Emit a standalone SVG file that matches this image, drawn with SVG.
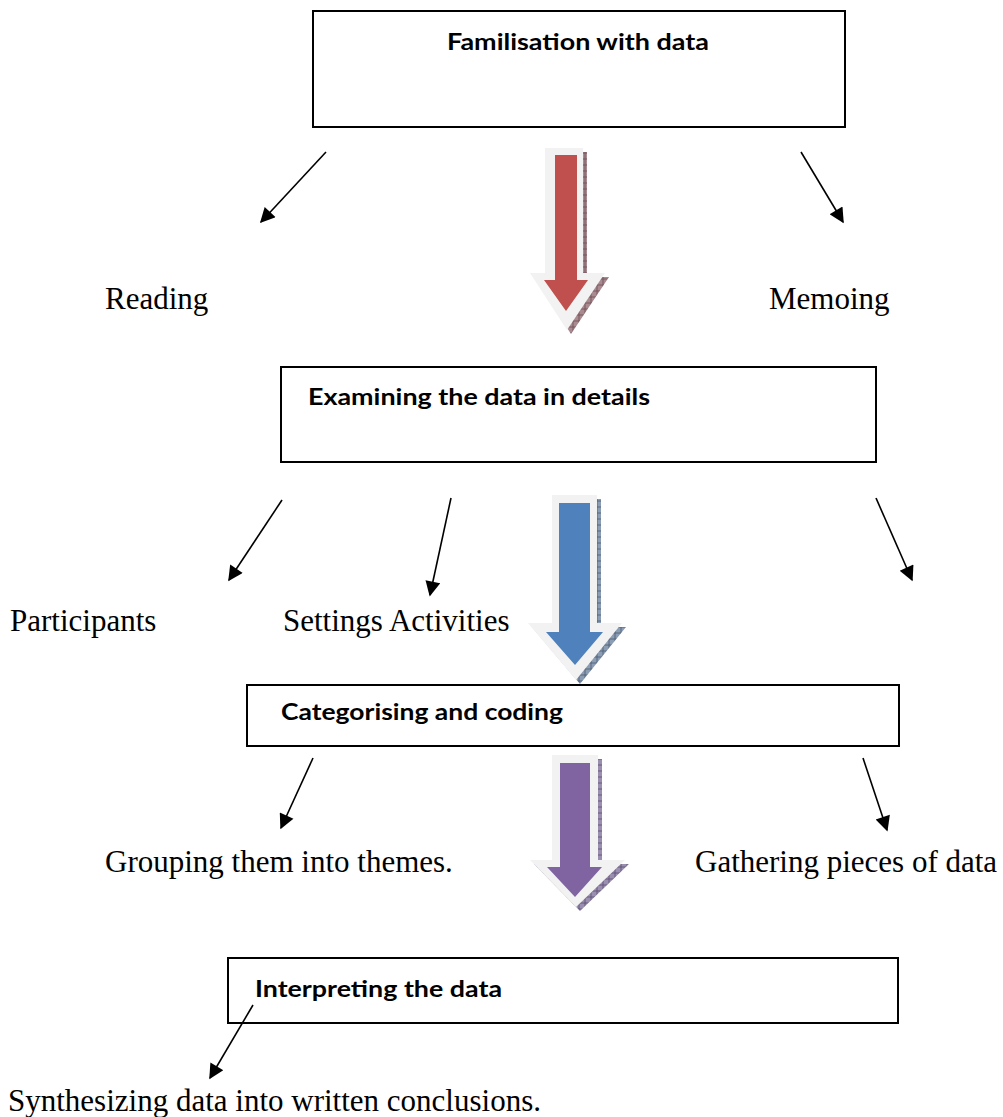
<svg xmlns="http://www.w3.org/2000/svg" width="1003" height="1117" viewBox="0 0 1003 1117">
<style>
.box{fill:#fff;stroke:#000;stroke-width:2}
.hd{font-family:Lato,"Liberation Sans",sans-serif;font-weight:bold;font-size:23px;fill:#000}
.lb{font-family:"Liberation Serif","Times New Roman",serif;font-size:31px;fill:#000}
.ln{stroke:#000;stroke-width:1.6;fill:none;marker-end:url(#ah)}
.out{fill:#f2f2f2}
</style>
<defs>
<marker id="ah" viewBox="0 0 10 10" refX="9" refY="5" markerWidth="18" markerHeight="15" markerUnits="userSpaceOnUse" orient="auto">
<path d="M0,0 L10,5 L0,10 z" fill="#000"/>
</marker>
<pattern id="hr" width="6" height="6" patternUnits="userSpaceOnUse">
<rect width="6" height="6" fill="#a88a90"/><path d="M0,3 H6 M3,0 V6" stroke="#6e4a52" stroke-width="0.8"/>
</pattern>
<pattern id="hb" width="6" height="6" patternUnits="userSpaceOnUse">
<rect width="6" height="6" fill="#8b9db3"/><path d="M0,3 H6 M3,0 V6" stroke="#4a5a70" stroke-width="0.8"/>
</pattern>
<pattern id="hp" width="6" height="6" patternUnits="userSpaceOnUse">
<rect width="6" height="6" fill="#9a8fae"/><path d="M0,3 H6 M3,0 V6" stroke="#5a4a70" stroke-width="0.8"/>
</pattern>
</defs>

<g id="connectors">
<line class="ln" x1="326" y1="152" x2="261" y2="222"/>
<line class="ln" x1="801" y1="152" x2="843" y2="222"/>
<line class="ln" x1="282" y1="500" x2="229" y2="580"/>
<line class="ln" x1="451" y1="498" x2="430" y2="595"/>
<line class="ln" x1="876" y1="498" x2="912" y2="580"/>
<line class="ln" x1="313" y1="758" x2="281" y2="828"/>
<line class="ln" x1="863" y1="758" x2="887" y2="830"/>
</g>

<g id="arrow-red">
<polygon fill="url(#hr)" points="549,152 587,152 587,277 609,277 571,334 534,277 549,277"/>
<polygon class="out" points="545,148 583,148 583,273 605,273 567,330 530,273 545,273"/>
<polygon fill="#c0504d" points="555,155 577,155 577,280 588,280 566,311 544,280 555,280"/>
</g>
<g id="arrow-blue">
<polygon fill="url(#hb)" points="556,499 601,499 601,627 626,627 580,684 532,627 556,627"/>
<polygon class="out" points="552,495 597,495 597,623 622,623 576,680 528,623 552,623"/>
<polygon fill="#4f81bd" points="559,503 590,503 590,632 603,632 575,665 546,632 559,632"/>
</g>
<g id="arrow-purple">
<polygon fill="url(#hp)" points="556,759 602,759 602,864 629,864 580,911 534,864 556,864"/>
<polygon class="out" points="552,755 598,755 598,860 625,860 576,907 530,860 552,860"/>
<polygon fill="#8064a2" points="560,763 590,763 590,867 602,867 575,897 547,867 560,867"/>
</g>

<g id="node-familisation">
<rect class="box" x="313" y="11" width="532" height="116"/>
<text class="hd" x="447" y="50" textLength="262" lengthAdjust="spacingAndGlyphs">Familisation with data</text>
</g>
<g id="node-examining">
<rect class="box" x="281" y="367" width="595" height="95"/>
<text class="hd" x="308" y="405" textLength="342" lengthAdjust="spacingAndGlyphs">Examining the data in details</text>
</g>
<g id="node-categorising">
<rect class="box" x="247" y="685" width="652" height="61"/>
<text class="hd" x="281" y="720" textLength="282" lengthAdjust="spacingAndGlyphs">Categorising and coding</text>
</g>
<g id="node-interpreting">
<rect class="box" x="228" y="958" width="670" height="65"/>
<text class="hd" x="255" y="997" textLength="247" lengthAdjust="spacingAndGlyphs">Interpreting the data</text>
</g>

<g id="connector-interpreting">
<line class="ln" x1="253" y1="1005" x2="210" y2="1078"/>
</g>

<g id="labels">
<text class="lb" x="105" y="309">Reading</text>
<text class="lb" x="769" y="309">Memoing</text>
<text class="lb" x="10" y="631">Participants</text>
<text class="lb" x="283" y="631">Settings Activities</text>
<text class="lb" x="105" y="872">Grouping them into themes.</text>
<text class="lb" x="695" y="872">Gathering pieces of data</text>
<text class="lb" x="8" y="1111">Synthesizing data into written conclusions.</text>
</g>
</svg>
